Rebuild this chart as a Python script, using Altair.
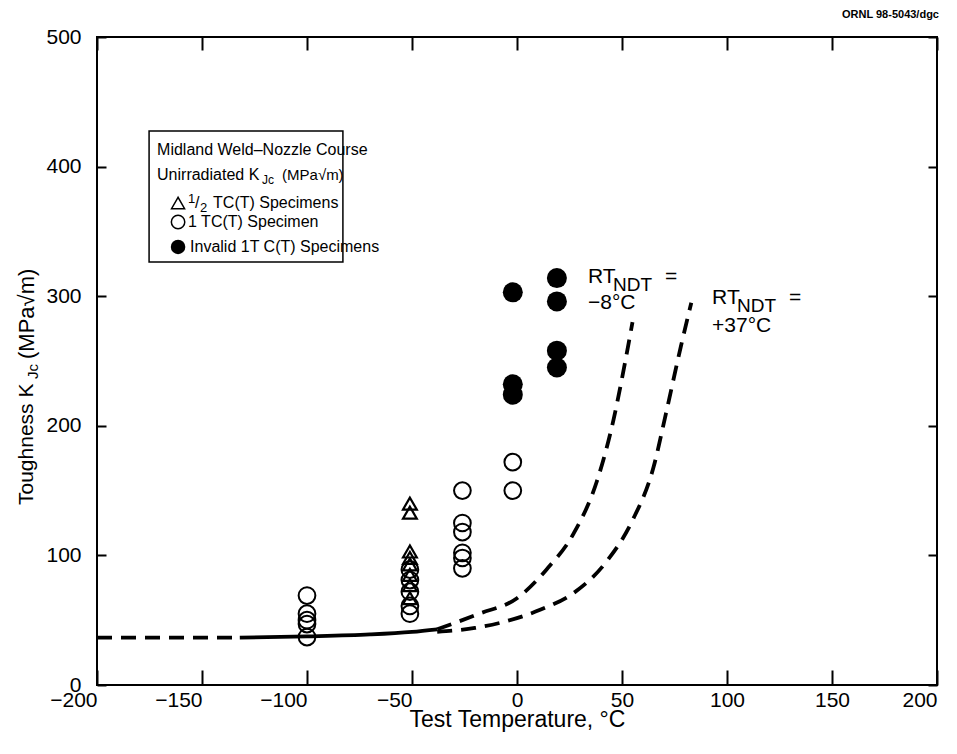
import altair as alt
import pandas as pd

FONT = "Liberation Sans"

# ---------------- data ----------------
# 1/2 TC(T) specimens (open triangles)
tri_T = [-51, -51, -51, -51, -51, -51, -51, -51]
tri_K = [140, 133, 103, 98, 93, 85, 77, 67]
# 1 TC(T) specimens (open circles)
circ_T = [-100, -100, -100, -100, -100, -51, -51, -51, -51, -51,
          -26, -26, -26, -26, -26, -26, -2, -2]
circ_K = [69, 55, 50, 47, 37, 89, 81, 72, 61, 55,
          150, 125, 118, 102, 98, 90, 172, 150]
# invalid 1T C(T) specimens (filled circles)
inv_T = [-2, -2, -2, 19, 19, 19, 19]
inv_K = [303, 232, 224, 314, 296, 258, 245]

# curves
shelf_T = [-200, -132]
shelf_K = [36.5, 36.5]
solid_T = [-132, -100, -70, -50, -38]
solid_K = [36.5, 37.5, 39, 41, 43]
m8_T = [-38, -18, 0, 14, 27, 38, 46, 51, 55]
m8_K = [43, 55, 67, 89, 117, 157, 205, 245, 280]
p37_T = [-38, -20, -8, 11, 27, 43, 55, 65, 71, 78, 83]
p37_K = [41, 44, 48, 58, 71, 96, 127, 168, 210, 261, 295]

x_ticks = [-200, -150, -100, -50, 0, 50, 100, 150, 200]
y_ticks = [0, 100, 200, 300, 400, 500]

W, H = 840, 648

xs = alt.Scale(domain=[-200, 200], nice=False, zero=False)
ys = alt.Scale(domain=[0, 500], nice=False, zero=False)

# inward tick marks: grid lines dashed so that only a short piece shows
# at each end of the plot (bottom/top and left/right)
xaxis = alt.Axis(values=x_ticks, title="Test Temperature, °C", domain=False,
                 ticks=False, grid=True, gridColor="black", gridWidth=2,
                 gridOpacity=1, gridDash=[13, H - 28, 15, 200],
                 labelFont=FONT, labelFontSize=21,
                 labelColor="black", labelPadding=4, labelFlush=False,
                 labelOverlap=False,
                 labelAlign={"condition": {"test": "datum.value < 0 || datum.value == 200",
                                           "value": "right"},
                             "value": "center"},
                 titleFont=FONT, titleFontSize=23,
                 titleFontWeight="normal", titleColor="black", titlePadding=-2)
yaxis = alt.Axis(values=y_ticks, title="", domain=False, ticks=False,
                 grid=True, gridColor="black", gridWidth=2, gridOpacity=1,
                 gridDash=[9, W - 18, 9, 200],
                 labelFont=FONT, labelFontSize=21,
                 labelColor="black", labelPadding=16, labelOverlap=False,
                 labelFlush=False)


def X(f):
    return alt.X(f, type="quantitative", scale=xs, axis=xaxis)


def Y(f):
    return alt.Y(f, type="quantitative", scale=ys, axis=yaxis)


def line(T, K, dashed=True, width=3.8):
    df = pd.DataFrame({"T": T, "K": K})
    kw = dict(color="black", strokeWidth=width, interpolate="monotone")
    if dashed:
        kw["strokeDash"] = [15, 9]
    return alt.Chart(df).mark_line(**kw).encode(x=X("T"), y=Y("K"))


def txt(x, y, s, size=16, dx=0, dy=0, angle=0, align="left",
        weight="normal", pixel=False):
    d = alt.Chart(pd.DataFrame({"x": [x], "y": [y]}))
    m = d.mark_text(text=s, fontSize=size, font=FONT, align=align,
                    baseline="middle", dx=dx, dy=dy, angle=angle,
                    color="black", fontWeight=weight)
    if pixel:
        return m.encode(x=alt.value(x), y=alt.value(y))
    return m.encode(x=X("x"), y=Y("y"))


layers = []

# curves
layers.append(line(shelf_T, shelf_K, dashed=True))
layers.append(line(solid_T, solid_K, dashed=False))
layers.append(line(m8_T, m8_K, dashed=True))
layers.append(line(p37_T, p37_K, dashed=True))

# data points
layers.append(alt.Chart(pd.DataFrame({"T": circ_T, "K": circ_K}))
              .mark_point(shape="circle", filled=False, color="black",
                          strokeWidth=2, size=280, opacity=1)
              .encode(x=X("T"), y=Y("K")))
layers.append(alt.Chart(pd.DataFrame({"T": tri_T, "K": tri_K}))
              .mark_point(shape="triangle-up", filled=False, color="black",
                          strokeWidth=2.2, size=190, opacity=1)
              .encode(x=X("T"), y=Y("K")))
layers.append(alt.Chart(pd.DataFrame({"T": inv_T, "K": inv_K}))
              .mark_point(shape="circle", filled=True, color="black",
                          size=400, opacity=1)
              .encode(x=X("T"), y=Y("K")))

# legend box
box = pd.DataFrame({"x": [-175.2], "x2": [-82.9], "y": [326.4], "y2": [427.5]})
layers.append(alt.Chart(box).mark_rect(filled=False, stroke="black",
                                       strokeWidth=1.5)
              .encode(x=X("x"), x2="x2", y=Y("y"), y2="y2"))

# legend text
LX = -171.4
layers.append(txt(LX, 412.8, "Midland Weld–Nozzle Course", size=16))
layers.append(txt(LX, 393.5, "Unirradiated K"))
layers.append(txt(LX, 393.5, "Jc", size=12, dx=105, dy=5))
layers.append(txt(LX, 393.5, "(MPa√m)", size=15, dx=125))
SX = -161.4
layers.append(alt.Chart(pd.DataFrame({"x": [SX], "y": [371.9]}))
              .mark_point(shape="triangle-up", filled=False, color="black",
                          strokeWidth=1.5, size=170, opacity=1)
              .encode(x=X("x"), y=Y("y")))
layers.append(txt(SX, 371.9, "1", size=13, dx=10, dy=-4))
layers.append(txt(SX, 371.9, "/", size=16, dx=17))
layers.append(txt(SX, 371.9, "2", size=13, dx=22, dy=5))
layers.append(txt(SX, 371.9, "TC(T) Specimens", dx=35))
layers.append(alt.Chart(pd.DataFrame({"x": [SX], "y": [357.3]}))
              .mark_point(shape="circle", filled=False, color="black",
                          strokeWidth=1.5, size=180, opacity=1)
              .encode(x=X("x"), y=Y("y")))
layers.append(txt(SX, 357.3, "1 TC(T) Specimen", dx=10))
layers.append(alt.Chart(pd.DataFrame({"x": [SX], "y": [338.0]}))
              .mark_point(shape="circle", filled=True, color="black",
                          size=210, opacity=1)
              .encode(x=X("x"), y=Y("y")))
layers.append(txt(SX, 338.0, "Invalid 1T C(T) Specimens", dx=12))

# curve labels
layers.append(txt(33.8, 314.8, "RT", size=21))
layers.append(txt(33.8, 314.8, "NDT", size=19, dx=25, dy=8))
layers.append(txt(33.8, 314.8, "=", size=21, dx=77))
layers.append(txt(33.8, 294.8, "−8°C", size=21))
layers.append(txt(92.9, 298.6, "RT", size=21))
layers.append(txt(92.9, 298.6, "NDT", size=19, dx=25, dy=8))
layers.append(txt(92.9, 298.6, "=", size=21, dx=77))
layers.append(txt(92.9, 277.0, "+37°C", size=21))

# y-axis title (rotated, with subscript)
layers.append(txt(-70, 468, "Toughness K", size=21, angle=270, pixel=True))
layers.append(txt(-64, 342, "Jc", size=15, angle=270, pixel=True))
layers.append(txt(-70, 322, "(MPa√m)", size=22, angle=270, pixel=True))

# figure code, top right
layers.append(txt(842, -22, "ORNL 98-5043/dgc", size=11, weight="bold",
                  align="right", pixel=True))

chart = alt.layer(*layers).properties(
    width=W, height=H,
    autosize=alt.AutoSizeParams(type="none"),
    padding={"left": 89, "top": 29, "right": 10, "bottom": 58},
    background="white",
).configure_view(stroke="black", strokeWidth=2)

chart.save("out.html", embed_options={"renderer": "svg", "actions": False})
